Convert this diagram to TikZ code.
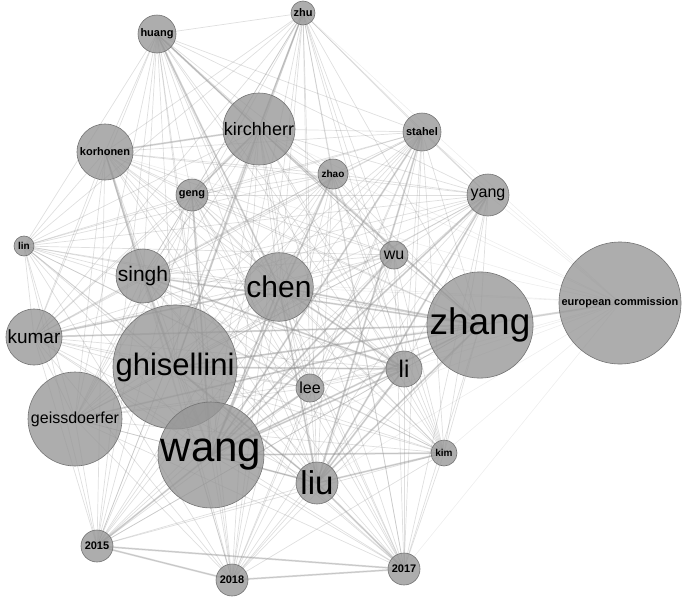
\documentclass[tikz,border=0pt]{standalone}
\usepackage{fontspec}
\setmainfont{Liberation Sans}
\usetikzlibrary{backgrounds}
\definecolor{nfill}{RGB}{150,150,150}
\definecolor{nline}{RGB}{115,115,115}
\definecolor{ecol}{RGB}{140,140,140}
\newcommand{\fsz}[1]{\fontsize{#1}{#1}\selectfont}
\begin{document}
\begin{tikzpicture}[x=1pt,y=-1pt,
  au/.style={circle,draw=nline,line width=0.6pt,fill=nfill,fill opacity=0.78,text opacity=1,inner sep=0pt,minimum size=#1},
  lk/.style={draw=ecol,line width=0.7pt,draw opacity=0.28},
  fk/.style={draw=ecol,line width=0.6pt,draw opacity=0.15},
  hk/.style={draw=ecol,line width=1.8pt,draw opacity=0.32}]
\useasboundingbox (0,0) rectangle (685,600);
\node[au=24pt]  (zhu)   at (303,13)  {\fsz{11}\bfseries zhu};
\node[au=38pt]  (huang) at (157,34)  {\fsz{11}\bfseries huang};
\node[au=72pt]  (kir)   at (259,129) {\fsz{18}kirchherr};
\node[au=38pt]  (sta)   at (422,132) {\fsz{11}\bfseries stahel};
\node[au=56pt]  (kor)   at (105,152) {\fsz{11}\bfseries korhonen};
\node[au=30pt]  (zhao)  at (333,174) {\fsz{10}\bfseries zhao};
\node[au=32pt]  (geng)  at (192,195) {\fsz{11}\bfseries geng};
\node[au=42pt]  (yang)  at (488,195) {\fsz{16}yang};
\node[au=20pt]  (lin)   at (24,246)  {\fsz{10}\bfseries lin};
\node[au=28pt]  (wu)    at (394,255) {\fsz{16}wu};
\node[au=54pt]  (singh) at (143,276) {\fsz{21}singh};
\node[au=68pt]  (chen)  at (279,287) {\fsz{30}chen};
\node[au=122pt] (ec)    at (620,303) {\fsz{11}\bfseries european commission};
\node[au=106pt] (zhang) at (480,325) {\fsz{37}zhang};
\node[au=56pt]  (kumar) at (34,337)  {\fsz{19}kumar};
\node[au=124pt] (ghi)   at (175,367) {\fsz{31}ghisellini};
\node[au=36pt]  (li)    at (404,369) {\fsz{24}li};
\node[au=28pt]  (lee)   at (310,388) {\fsz{16}lee};
\node[au=94pt]  (gei)   at (75,419)  {\fsz{16}geissdoerfer};
\node[au=106pt] (wang)  at (211,455) {\fsz{42}wang};
\node[au=26pt]  (kim)   at (444,453) {\fsz{10}\bfseries kim};
\node[au=42pt]  (liu)   at (317,483) {\fsz{33}liu};
\node[au=32pt]  (y15)   at (97,546)  {\fsz{11}\bfseries 2015};
\node[au=32pt]  (y18)   at (232,580) {\fsz{11}\bfseries 2018};
\node[au=32pt]  (y17)   at (404,569) {\fsz{11}\bfseries 2017};
\begin{scope}[on background layer]
\def\allnodes{zhu,huang,kir,sta,kor,zhao,geng,yang,lin,wu,singh,chen,zhang,kumar,ghi,li,lee,gei,wang,kim,liu,y15,y18,y17}
\foreach \a [count=\i] in \allnodes {
  \foreach \b [count=\j] in \allnodes {
    \ifnum\j>\i \draw[lk] (\a.center) -- (\b.center);\fi
  }
}
\foreach \b in {zhang,yang,sta,wu,li,kim,y17,chen,wang,lee,liu,zhu,kir,ghi,singh,zhao,kor}
  \draw[fk] (ec.center) -- (\b.center);
\foreach \a/\b in {y15/y17,y15/y18,y18/y17,wang/liu,wang/kim,liu/kim,liu/zhang,liu/li,
  wang/li,wang/zhang,ghi/zhang,ghi/li,chen/zhang,chen/li,singh/zhang,kor/singh,
  kor/kir,huang/kir,huang/chen,zhu/kir,kir/geng,kir/ghi,chen/wang,geng/wang,
  singh/ghi,kumar/zhang,kumar/chen,gei/zhang,yang/wang,yang/liu,sta/wang,sta/liu,
  zhao/wang,wu/wang,lee/wang,ghi/liu,chen/liu,singh/li,kir/zhang,ec/zhang,wang/y15,liu/y17}
  \draw[hk] (\a.center) -- (\b.center);
\end{scope}
\end{tikzpicture}
\end{document}
